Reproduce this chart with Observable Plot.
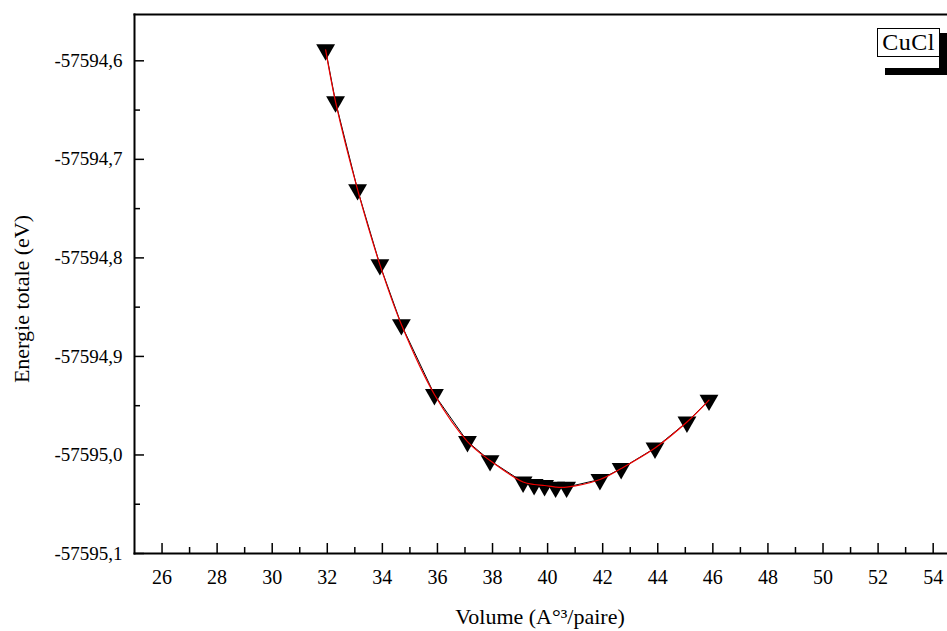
<!DOCTYPE html>
<html>
<head>
<meta charset="utf-8">
<script src="https://cdn.jsdelivr.net/npm/d3@7"></script>
<script src="https://cdn.jsdelivr.net/npm/@observablehq/plot@0.6"></script>
<style>
  body { margin: 0; background: #fff; }
  #wrap { position: relative; width: 947px; height: 631px; overflow: hidden; background: #fff; font-family: "Liberation Serif", "Times New Roman", serif; color: #000; }
  #wrap svg { position: absolute; left: 0; top: 0; font-family: "Liberation Serif", serif; }
  #wrap svg text { font-family: "Liberation Serif", serif; }
  .xtitle { position: absolute; left: 540px; top: 606px; transform: translateX(-50%); font-size: 22px; line-height: 1; white-space: nowrap; }
  .ytitle { position: absolute; left: 22px; top: 299px; transform: translate(-50%, -50%) rotate(-90deg); font-size: 22px; line-height: 1; white-space: nowrap; }
  .shadow { position: absolute; background: #000; }
  .legend { position: absolute; left: 877px; top: 28px; width: 61px; height: 27px; border: 1px solid #000; background: #fff; font-size: 24px; line-height: 27px; text-align: center; box-sizing: content-box; letter-spacing: 0.5px; }
</style>
</head>
<body>
<div id="wrap"></div>
<script>
// Data
const volume = [31.94, 32.30, 33.10, 33.91, 34.69, 35.89, 37.09, 37.91, 39.11, 39.51, 39.89, 40.29, 40.69, 41.90, 42.67, 43.90, 45.06, 45.86];
const energy = [-57594.5888, -57594.6416, -57594.7308, -57594.8069, -57594.8677, -57594.9387, -57594.9864, -57595.0057,
                -57595.0275, -57595.0300, -57595.0310, -57595.0326, -57595.0326, -57595.0249, -57595.0138, -57594.9930,
                -57594.9666, -57594.9443];
const xTicks = [26, 28, 30, 32, 34, 36, 38, 40, 42, 44, 46, 48, 50, 52, 54];
const xMinor = [27, 29, 31, 33, 35, 37, 39, 41, 43, 45, 47, 49, 51, 53];
const yTicks = [-57595.1, -57595.0, -57594.9, -57594.8, -57594.7, -57594.6];
const yMinor = [-57595.05, -57594.95, -57594.85, -57594.75, -57594.65];
const seriesName = "CuCl";
const xTitle = "Volume (A°³/paire)";
const yTitle = "Energie totale (eV)";

const data = volume.map((v, i) => ({v, e: energy[i]}));
const fmtY = d => d.toFixed(1).replace(".", ",");
const serif = "'Liberation Serif', 'Times New Roman', serif";

const chart = Plot.plot({
  width: 947,
  height: 631,
  marginLeft: 134,
  marginRight: 0,
  marginTop: 14,
  marginBottom: 78,
  style: {fontFamily: serif, fontSize: "18px", color: "#000", background: "transparent", overflow: "visible"},
  x: {domain: [25, 54.52]},
  y: {domain: [-57595.1, -57594.553]},
  marks: [
    Plot.tickY(yTicks, {y: d => d, insetRight: 803, strokeWidth: 1.5, stroke: "#000"}),
    Plot.tickY(yMinor, {y: d => d, insetRight: 807, strokeWidth: 1.5, stroke: "#000"}),
    Plot.tickX(xTicks, {x: d => d, insetTop: 529, strokeWidth: 1.5, stroke: "#000"}),
    Plot.tickX(xMinor, {x: d => d, insetTop: 533, strokeWidth: 1.5, stroke: "#000"}),
    Plot.axisY({ticks: yTicks, tickFormat: fmtY, tickSize: 0, tickPadding: 12, label: null, fontSize: 19, fontFamily: serif, fill: "#000"}),
    Plot.axisX({ticks: xTicks, tickFormat: d => String(d), tickSize: 0, tickPadding: 16, label: null, fontSize: 20, fontFamily: serif, fill: "#000"}),
    Plot.frame({anchor: "left", strokeWidth: 2, stroke: "#000"}),
    Plot.frame({anchor: "bottom", strokeWidth: 2, stroke: "#000"}),
    Plot.frame({anchor: "top", strokeWidth: 2, stroke: "#000"}),
    Plot.line(data, {x: "v", y: "e", stroke: "#000", strokeWidth: 1}),
    Plot.dot(data, {x: "v", y: "e", symbol: "triangle", r: 7, fill: "#000", stroke: "none", rotate: 180}),
    Plot.line(data, {x: "v", y: "e", stroke: "#ee0000", strokeWidth: 1.2, curve: "catmull-rom"})
  ]
});

const wrap = document.getElementById("wrap");
wrap.appendChild(chart);

const xt = document.createElement("div");
xt.className = "xtitle";
xt.textContent = xTitle;
wrap.appendChild(xt);

const yt = document.createElement("div");
yt.className = "ytitle";
yt.textContent = yTitle;
wrap.appendChild(yt);

const s1 = document.createElement("div");
s1.className = "shadow";
Object.assign(s1.style, {left: "939px", top: "33px", width: "8px", height: "42px"});
wrap.appendChild(s1);
const s2 = document.createElement("div");
s2.className = "shadow";
Object.assign(s2.style, {left: "885px", top: "68px", width: "62px", height: "7px"});
wrap.appendChild(s2);

const lg = document.createElement("div");
lg.className = "legend";
lg.textContent = seriesName;
wrap.appendChild(lg);
</script>
</body>
</html>
